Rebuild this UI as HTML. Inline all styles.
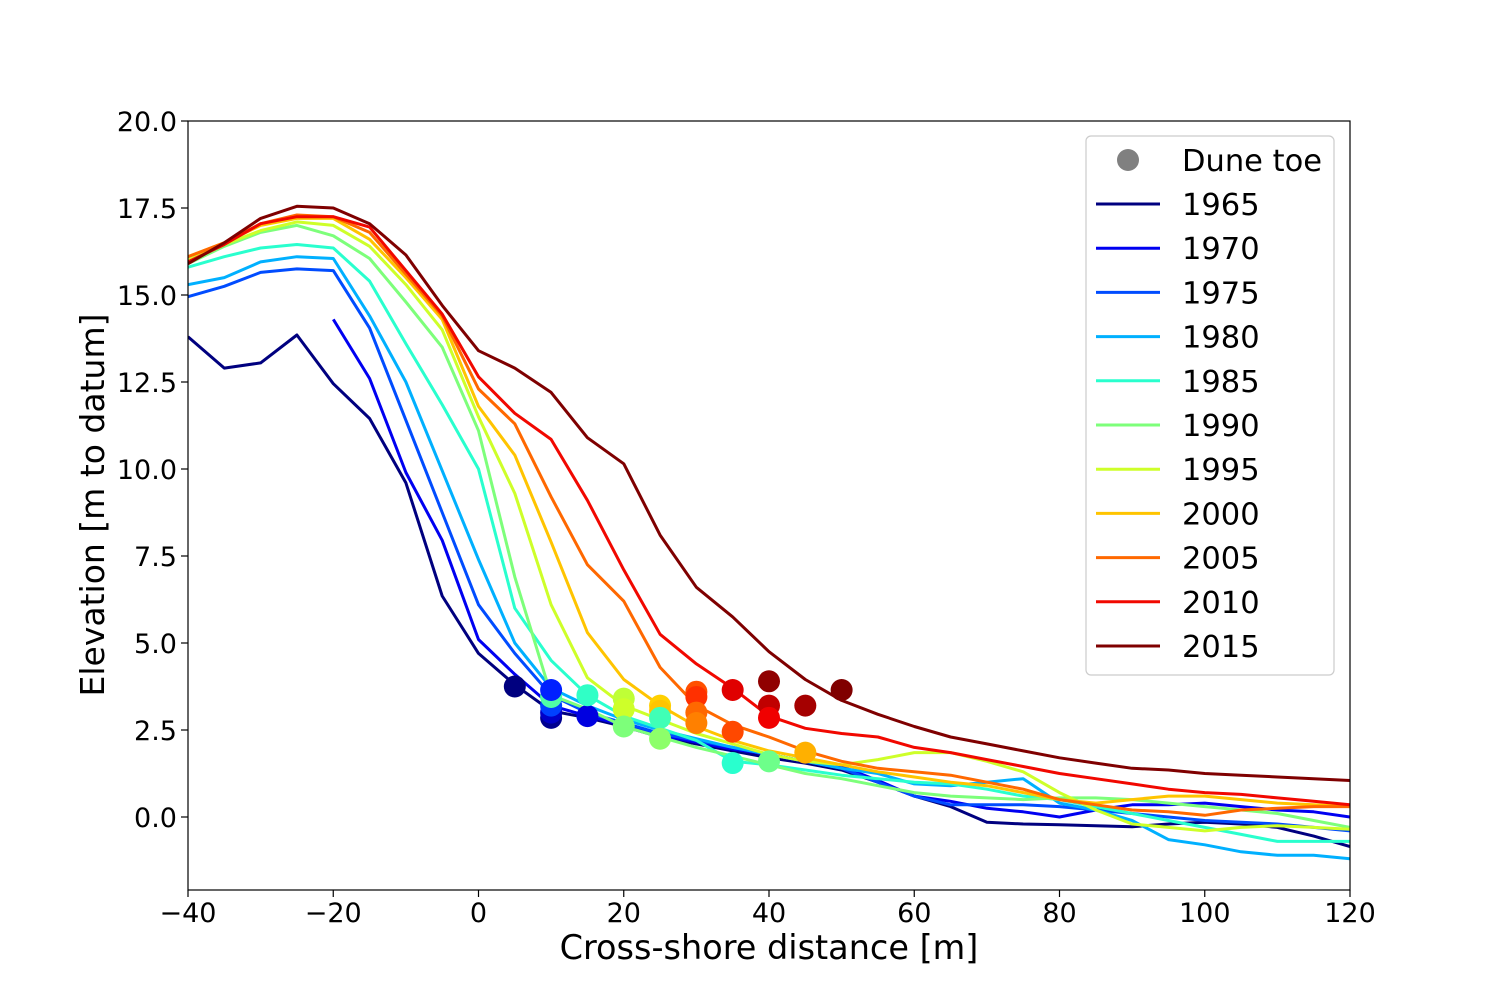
<!DOCTYPE html>
<html><head><meta charset="utf-8">
<style>
html,body{margin:0;padding:0;background:#fff;}
svg{display:block;font-family:"DejaVu Sans","Liberation Sans",sans-serif;}
</style></head>
<body>
<svg id="chart" width="1500" height="1000" viewBox="0 0 1500 1000" xmlns="http://www.w3.org/2000/svg">
<rect width="1500" height="1000" fill="#fff"/>
<g id="plot"></g>
<g id="axes"></g>
<g id="legend"></g>
</svg>
<script>
const xs = [-40,-35,-30,-25,-20,-15,-10,-5,0,5,10,15,20,25,30,35,40,45,50,55,60,65,70,75,80,85,90,95,100,105,110,115,120];
const years = ['1965','1970','1975','1980','1985','1990','1995','2000','2005','2010','2015'];
const colors = ['#00007f','#0000f1','#004cff','#00b0ff','#29ffce','#7dff7a','#ceff29','#ffc400','#ff6800','#f10800','#7f0000'];
const s1965 = [13.8,12.9,13.05,13.85,12.45,11.45,9.6,6.35,4.7,3.8,3.05,2.85,2.6,2.3,2.1,1.9,1.7,1.55,1.35,1.0,0.6,0.3,-0.15,-0.2,-0.22,-0.25,-0.28,-0.2,-0.15,-0.2,-0.3,-0.55,-0.85];
const s1970 = [null,null,null,null,14.3,12.6,9.9,7.95,5.1,4.1,3.2,2.9,2.65,2.35,2.15,1.95,1.8,1.6,1.45,1.05,0.6,0.45,0.25,0.15,0.0,0.2,0.35,0.35,0.4,0.3,0.2,0.15,0.0];
const s1975 = [14.95,15.25,15.65,15.75,15.7,14.05,11.4,8.75,6.1,4.7,3.5,3.0,2.7,2.4,2.2,2.0,1.8,1.6,1.4,1.0,0.6,0.35,0.35,0.35,0.3,0.2,0.1,0.0,-0.1,-0.15,-0.2,-0.3,-0.4];
const s1980 = [15.3,15.5,15.95,16.1,16.05,14.4,12.5,9.95,7.4,5.0,3.7,3.2,2.8,2.5,2.25,2.0,1.8,1.6,1.4,1.25,0.95,0.9,1.0,1.1,0.4,0.2,-0.1,-0.65,-0.8,-1.0,-1.1,-1.1,-1.2];
const s1985 = [15.8,16.1,16.35,16.45,16.35,15.4,13.6,11.85,10.0,6.0,4.5,3.5,2.9,2.55,2.2,1.6,1.5,1.35,1.2,1.1,1.0,0.95,0.8,0.6,0.5,0.3,0.1,-0.1,-0.3,-0.5,-0.7,-0.7,-0.7];
const s1990 = [15.9,16.4,16.8,17.0,16.7,16.05,14.8,13.5,11.1,6.9,3.5,3.1,2.6,2.3,2.0,1.75,1.5,1.25,1.1,0.9,0.7,0.6,0.55,0.5,0.55,0.55,0.5,0.4,0.3,0.2,0.1,-0.1,-0.3];
const s1995 = [16.0,16.45,16.85,17.1,17.0,16.4,15.3,14.0,11.5,9.3,6.1,4.0,3.2,2.8,2.4,2.1,1.8,1.6,1.5,1.65,1.85,1.85,1.6,1.3,0.7,0.2,-0.2,-0.3,-0.4,-0.3,-0.25,-0.3,-0.35];
const s2000 = [16.1,16.5,17.0,17.2,17.2,16.6,15.5,14.3,11.8,10.4,7.9,5.3,3.95,3.2,2.6,2.2,1.9,1.7,1.5,1.3,1.15,1.0,0.9,0.7,0.5,0.4,0.5,0.6,0.6,0.5,0.4,0.35,0.3];
const s2005 = [16.1,16.5,17.05,17.3,17.25,16.8,15.6,14.4,12.3,11.3,9.2,7.25,6.2,4.3,3.2,2.65,2.3,1.9,1.6,1.4,1.3,1.2,1.0,0.8,0.5,0.35,0.2,0.15,0.05,0.2,0.25,0.3,0.3];
const s2010 = [15.95,16.45,17.05,17.25,17.25,16.95,15.7,14.45,12.65,11.6,10.85,9.1,7.1,5.25,4.4,3.7,2.9,2.55,2.4,2.3,2.0,1.85,1.65,1.45,1.25,1.1,0.95,0.8,0.7,0.65,0.55,0.45,0.35];
const s2015 = [15.9,16.5,17.2,17.55,17.5,17.05,16.15,14.7,13.4,12.9,12.2,10.9,10.15,8.1,6.6,5.75,4.75,3.95,3.35,2.95,2.6,2.3,2.1,1.9,1.7,1.55,1.4,1.35,1.25,1.2,1.15,1.1,1.05];
const series = [s1965,s1970,s1975,s1980,s1985,s1990,s1995,s2000,s2005,s2010,s2015];
const toeX = [5,10,10,10,10,10,15,15,20,20,20,25,25,25,25,30,30,30,30,35,35,35,40,40,40,40,45,45,50];
const toeY = [3.75,2.85,3.0,3.2,3.45,3.65,2.9,3.5,3.4,3.1,2.6,3.2,3.05,2.85,2.25,3.6,3.45,3.0,2.7,3.65,2.45,1.55,3.9,3.2,2.85,1.6,3.2,1.85,3.65];
const toeC = ['#00007f','#00008f','#0000c8','#0040ff','#50ffa6','#0020ff','#0000e0','#30ffc6','#bfff36','#ceff29','#7dff7a','#ffd000','#ffc400','#40ffb6','#8dff6a','#ff5000','#ff3000','#ff6800','#ff8000','#e00000','#ff4800','#29ffce','#900000','#c00000','#f00000','#6dff8a','#a50000','#ffb000','#800000'];
const xTicks = [-40,-20,0,20,40,60,80,100,120];
const yTicks = [0,2.5,5,7.5,10,12.5,15,17.5,20];
const yTickLabels = ['0.0','2.5','5.0','7.5','10.0','12.5','15.0','17.5','20.0'];

const L=188,R=1350,T=121,B=890;
const XMIN=-40,XMAX=120;
const sx = v => L+(v-XMIN)/(XMAX-XMIN)*(R-L);
const sy = v => 817-(v)*34.8;
const NS='http://www.w3.org/2000/svg';
function mk(tag,attrs,parent){const e=document.createElementNS(NS,tag);for(const k in attrs)e.setAttribute(k,attrs[k]);parent.appendChild(e);return e;}
const plot=document.getElementById('plot'), axes=document.getElementById('axes'), legend=document.getElementById('legend');
const cp=mk('clipPath',{id:'clip'},plot);mk('rect',{x:L,y:T,width:R-L,height:B-T},cp);
const lg=mk('g',{'clip-path':'url(#clip)'},plot);
series.forEach((s,i)=>{
  let d='',pen=false;
  s.forEach((v,j)=>{ if(v===null){pen=false;return;} d+=(pen?'L':'M')+sx(xs[j]).toFixed(1)+','+sy(v).toFixed(1); pen=true;});
  const p=mk('path',{d:d,fill:'none',stroke:colors[i],'stroke-width':3,'stroke-linejoin':'round'},lg);
  
  
});
toeX.forEach((x,i)=>{
  const c=mk('circle',{cx:sx(x),cy:sy(toeY[i]),r:11,fill:toeC[i]},lg);
  
  
});
mk('rect',{x:L,y:T,width:R-L,height:B-T,fill:'none',stroke:'#000','stroke-width':1.2},axes);
xTicks.forEach(v=>{
  mk('line',{x1:sx(v),x2:sx(v),y1:B,y2:B+7,stroke:'#000','stroke-width':1.2},axes);
  const t=mk('text',{x:sx(v),y:B+32,'font-size':27,'text-anchor':'middle'},axes);
  t.textContent=v<0?'\u2212'+(-v):String(v);
  
  
});
yTicks.forEach((v,i)=>{
  mk('line',{x1:L-7,x2:L,y1:sy(v),y2:sy(v),stroke:'#000','stroke-width':1.2},axes);
  const t=mk('text',{x:L-11,y:sy(v)+10,'font-size':27,'text-anchor':'end'},axes);
  t.textContent=yTickLabels[i];
  
  
});
const xt=mk('text',{x:769,y:959,'font-size':33.5,'text-anchor':'middle'},axes);
xt.textContent='Cross-shore distance [m]';


const yt=mk('text',{x:0,y:0,'font-size':33,'text-anchor':'middle',transform:'translate(104,505) rotate(-90)'},axes);
yt.textContent='Elevation [m to datum]';


mk('rect',{x:1086,y:136,width:248,height:539,rx:5,fill:'#fff',stroke:'#ccc','stroke-width':1.2},legend);
const e0=mk('circle',{cx:1128,cy:160,r:11,fill:'#808080'},legend);


const t0=mk('text',{x:1182,y:171,'font-size':30.5},legend);
t0.textContent='Dune toe';


years.forEach((y,i)=>{
  const yy=204+i*44.2;
  mk('line',{x1:1096,x2:1160,y1:yy,y2:yy,stroke:colors[i],'stroke-width':3},legend);
  const t=mk('text',{x:1182,y:yy+11,'font-size':30.5},legend);
  t.textContent=y;
  
  
});
</script>
</body></html>
